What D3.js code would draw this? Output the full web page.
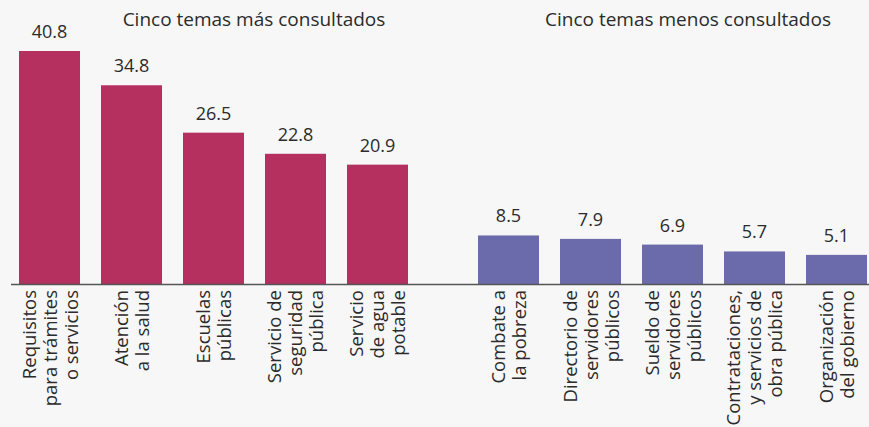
<!DOCTYPE html>
<html>
<head>
<meta charset="utf-8">
<script src="https://cdn.jsdelivr.net/npm/d3@7"></script>
<style>
  body { margin: 0; background: #f7f7f7; }
  svg { display: block; font-family: "Open Sans", sans-serif; }
</style>
</head>
<body>
<div id="chart"></div>
<script>
// Data
var topLabels = [
  ["Requisitos", "para trámites", "o servicios"],
  ["Atención", "a la salud"],
  ["Escuelas", "públicas"],
  ["Servicio de", "seguridad", "pública"],
  ["Servicio", "de agua", "potable"]
];
var topValues = [40.8, 34.8, 26.5, 22.8, 20.9];

var bottomLabels = [
  ["Combate a", "la pobreza"],
  ["Directorio de", "servidores", "públicos"],
  ["Sueldo de", "servidores", "públicos"],
  ["Contrataciones,", "y servicios de", "obra pública"],
  ["Organización", "del gobierno"]
];
var bottomValues = [8.5, 7.9, 6.9, 5.7, 5.1];

var titles = ["Cinco temas más consultados", "Cinco temas menos consultados"];

var width = 869, height = 427;
var baseY = 284;

var svg = d3.select("#chart")
  .append("svg")
  .attr("width", width)
  .attr("height", height);

var y = d3.scaleLinear().domain([0, 40.8]).range([baseY, 51]);

var groups = [
  { labels: topLabels, values: topValues, range: [19, 408], color: "#b52f5f", title: titles[0], tx: 254 },
  { labels: bottomLabels, values: bottomValues, range: [478, 867], color: "#6b6aaa", title: titles[1], tx: 688 }
];

groups.forEach(function (g) {
  var x = d3.scaleBand()
    .domain(d3.range(g.values.length))
    .range(g.range)
    .paddingInner(0.256)
    .paddingOuter(0);

  var grp = svg.append("g");

  grp.selectAll("rect")
    .data(g.values)
    .enter()
    .append("rect")
    .attr("x", function (d, i) { return x(i); })
    .attr("y", function (d) { return y(d); })
    .attr("width", x.bandwidth())
    .attr("height", function (d) { return baseY - y(d); })
    .style("fill", g.color);

  grp.selectAll(".val")
    .data(g.values)
    .enter()
    .append("text")
    .attr("class", "val")
    .attr("x", function (d, i) { return x(i) + x.bandwidth() / 2; })
    .attr("y", function (d) { return y(d) - 13; })
    .attr("text-anchor", "middle")
    .style("font-size", "18px")
    .style("fill", "#2b2b2b")
    .text(function (d) { return d.toFixed(1); });

  // rotated category labels
  var lh = 21;
  grp.selectAll(".lab")
    .data(g.labels)
    .enter()
    .append("text")
    .attr("class", "lab")
    .attr("transform", function (d, i) {
      return "translate(" + (x(i) + x.bandwidth() / 2) + "," + (baseY + 6) + ") rotate(-90)";
    })
    .attr("text-anchor", "end")
    .style("font-size", "18.5px")
    .style("fill", "#2b2b2b")
    .each(function (lines) {
      var t = d3.select(this);
      var n = lines.length;
      lines.forEach(function (l, k) {
        t.append("tspan")
          .attr("x", 0)
          .attr("y", (k - (n - 1) / 2) * lh + 7)
          .text(l);
      });
    });

  svg.append("text")
    .attr("x", g.tx)
    .attr("y", 26)
    .attr("text-anchor", "middle")
    .style("font-size", "19px")
    .style("fill", "#2b2b2b")
    .text(g.title);
});

// baseline
svg.append("line")
  .attr("x1", 11)
  .attr("x2", width)
  .attr("y1", baseY + 0.5)
  .attr("y2", baseY + 0.5)
  .style("stroke", "#555")
  .style("stroke-width", 1.5);
</script>
</body>
</html>
